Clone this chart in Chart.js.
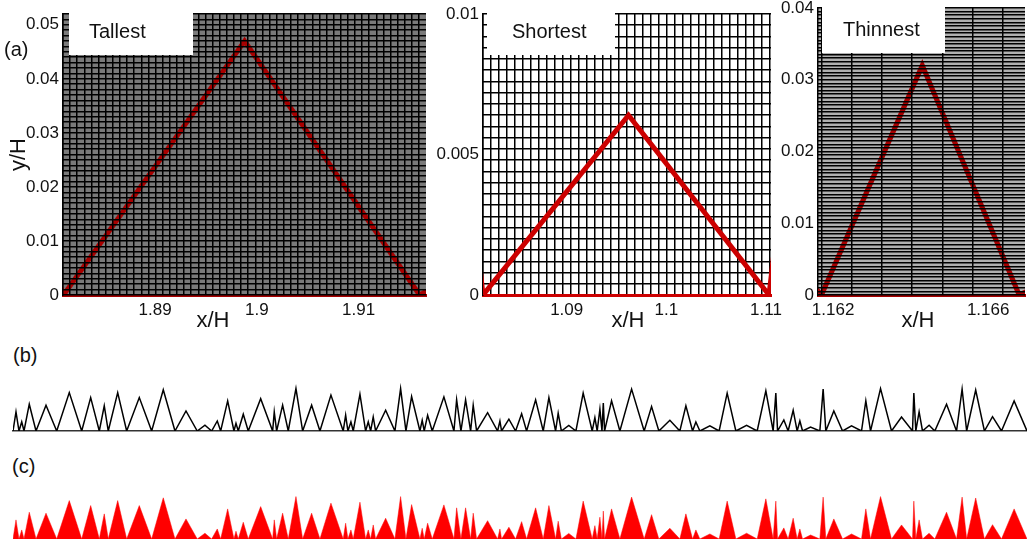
<!DOCTYPE html>
<html>
<head>
<meta charset="utf-8">
<script src="https://cdn.jsdelivr.net/npm/chart.js@4.4.1/dist/chart.umd.min.js"></script>
<style>
  body { margin: 0; background: #fff; }
  #fig { position: relative; width: 1027px; height: 544px; overflow: hidden; font-family: "Liberation Sans", Arial, sans-serif; color: #111; }
  #fig canvas { position: absolute; }
  .tag { position: absolute; font-size: 20px; line-height: 20px; }
  .xlab { position: absolute; font-size: 22px; line-height: 22px; transform: translateX(-50%); white-space: nowrap; }
</style>
</head>
<body>
<div id="fig">
  <canvas id="tallest" width="440" height="330" style="left:0;top:0"></canvas>
  <canvas id="shortest" width="370" height="330" style="left:430px;top:0"></canvas>
  <canvas id="thinnest" width="257" height="330" style="left:770px;top:0"></canvas>
  <canvas id="profile" width="1027" height="60" style="left:0;top:376px"></canvas>
  <canvas id="cells" width="1027" height="60" style="left:0;top:484px"></canvas>

  <div class="tag" style="left:4px;top:39px">(a)</div>
  <div class="tag" style="left:13px;top:345px">(b)</div>
  <div class="tag" style="left:12px;top:456px">(c)</div>
  <div class="xlab" style="left:213px;top:309px">x/H</div>
  <div class="xlab" style="left:628px;top:309px">x/H</div>
  <div class="xlab" style="left:918px;top:309px">x/H</div>
</div>

<script>
// rough wall: vertices of the triangular elements (x/H, y/H)
const profileX = [
  0.0000, 0.0059, 0.0118, 0.0172, 0.0217, 0.0321, 0.0454, 0.0651, 0.0862, 0.1110,
  0.1355, 0.1532, 0.1702, 0.1800, 0.1879, 0.2065, 0.2242, 0.2491, 0.2735, 0.2964,
  0.3195, 0.3412, 0.3634, 0.3786, 0.3918, 0.4029, 0.4096, 0.4234, 0.4358, 0.4398,
  0.4443, 0.4542, 0.4640, 0.4885, 0.5121, 0.5153, 0.5200, 0.5318, 0.5429, 0.5581,
  0.5713, 0.5890, 0.6054, 0.6271, 0.6513, 0.6561, 0.6606, 0.6665, 0.6711, 0.6843,
  0.6955, 0.7007, 0.7054, 0.7105, 0.7152, 0.7350, 0.7533, 0.7645, 0.7750, 0.7862,
  0.8026, 0.8071, 0.8111, 0.8178, 0.8269, 0.8499, 0.8697, 0.8750, 0.8835, 0.8927,
  0.9026, 0.9077, 0.9144, 0.9361, 0.9558, 0.9604, 0.9637, 0.9781, 0.9913, 1.0032,
  1.0130, 1.0308, 1.0458, 1.0570, 1.0702, 1.0753, 1.0816, 1.0962, 1.1103, 1.1246,
  1.1424, 1.1477, 1.1522, 1.1576, 1.1617, 1.1643, 1.1668, 1.1806, 1.1970, 1.2201,
  1.2449, 1.2595, 1.2739, 1.2956, 1.3153, 1.3272, 1.3404, 1.3469, 1.3548, 1.3745,
  1.3928, 1.4086, 1.4258, 1.4469, 1.4678, 1.4849, 1.4993, 1.5046, 1.5080, 1.5204,
  1.5289, 1.5388, 1.5466, 1.5520, 1.5573, 1.5731, 1.5914, 1.5979, 1.6032, 1.6190,
  1.6362, 1.6539, 1.6736, 1.6821, 1.6914, 1.7111, 1.7328, 1.7525, 1.7742, 1.7768,
  1.7807, 1.7872, 1.7939, 1.8069, 1.8182, 1.8413, 1.8610, 1.8720, 1.8810, 1.8988,
  1.9160, 1.9320, 1.9497, 1.9746, 2.0000
];
const profileY = [
  0, 0.0219, 0, 0.0104, 0, 0.0307, 0, 0.0296, 0, 0.0440,
  0, 0.0383, 0, 0.0288, 0, 0.0440, 0, 0.0383, 0, 0.0472,
  0, 0.0230, 0, 0.0066, 0, 0.0115, 0, 0.0345, 0, 0.0089,
  0, 0.0192, 0, 0.0371, 0, 0.0219, 0, 0.0296, 0, 0.0486,
  0, 0.0296, 0, 0.0411, 0, 0.0181, 0, 0.0104, 0, 0.0422,
  0, 0.0104, 0, 0.0161, 0, 0.0238, 0, 0.0486, 0, 0.0394,
  0, 0.0123, 0, 0.0181, 0, 0.0391, 0, 0.0357, 0, 0.0357,
  0, 0.0296, 0, 0.0210, 0, 0.0115, 0, 0.0135, 0, 0.0199,
  0, 0.0357, 0, 0.0383, 0, 0.0204, 0, 0.0064, 0, 0.0434,
  0, 0.0153, 0, 0.0250, 0, 0.0320, 0, 0.0345, 0, 0.0480,
  0, 0.0279, 0, 0.0123, 0, 0.0288, 0, 0.0104, 0, 0.0058,
  0, 0.0434, 0, 0.0066, 0, 0.0460, 0, 0.0434, 0, 0.0127,
  0, 0.0238, 0, 0.0115, 0, 0.0046, 0, 0.0480, 0, 0.0230,
  0, 0.0058, 0, 0.0345, 0, 0.0486, 0, 0.0161, 0, 0.0434,
  0, 0.0219, 0, 0.0066, 0, 0.0307, 0, 0.0480, 0, 0.0470,
  0, 0.0164, 0, 0.0345, 0
];

// axis ticks of the three close-ups
const tallestXTicks = [1.89, 1.9, 1.91];
const tallestYTicks = [0, 0.01, 0.02, 0.03, 0.04, 0.05];
const shortestXTicks = [1.09, 1.1, 1.11];
const shortestYTicks = [0, 0.005, 0.01];
const thinnestXTicks = [1.162, 1.166];
const thinnestYTicks = [0, 0.01, 0.02, 0.03, 0.04];

const profilePoints = profileX.map((x, i) => ({ x, y: profileY[i] }));

Chart.defaults.font.family = '"Liberation Sans", Arial, sans-serif';
Chart.defaults.color = '#111';

// grey cell background under the mesh, white label box on top
const panelTag = {
  id: 'panelTag',
  beforeDraw(chart, args, opts) {
    if (!opts.shade) return;
    const { ctx, chartArea: a } = chart;
    ctx.save();
    ctx.fillStyle = opts.shade;
    ctx.fillRect(a.left, a.top, a.right - a.left, a.bottom - a.top);
    ctx.restore();
  },
  afterDraw(chart, args, opts) {
    const { ctx, chartArea: a } = chart;
    const [dx, w, h] = opts.box;
    ctx.save();
    ctx.fillStyle = '#fff';
    ctx.fillRect(a.left + dx, a.top - 1, w, h + 1);
    ctx.fillStyle = '#111';
    ctx.font = '20px "Liberation Sans", Arial, sans-serif';
    ctx.fillText(opts.text, a.left + dx + opts.textDx, a.top + opts.baseline);
    ctx.restore();
  }
};

function meshLines(start, end, step) {
  const out = [];
  for (let v = start; v <= end + 1e-9; v += step) out.push({ value: v });
  return out;
}

function closeUp(id, v) {
  return new Chart(document.getElementById(id), {
    type: 'line',
    data: {
      datasets: [{
        data: profilePoints,
        borderColor: v.lineColor,
        borderWidth: 5,
        pointRadius: 0,
        fill: false
      }]
    },
    options: {
      responsive: false,
      animation: false,
      events: [],
      layout: { padding: v.padding },
      plugins: {
        legend: { display: false },
        tooltip: { enabled: false },
        panelTag: v.tag
      },
      scales: {
        x: {
          type: 'linear',
          min: v.xMin,
          max: v.xMax,
          grid: { display: false, drawTicks: false },
          border: { color: v.lineColor, width: 3 },
          ticks: { font: { size: 17 }, padding: 5, callback: (val) => String(val) },
          afterBuildTicks: (s) => { s.ticks = v.xTicks.map((value) => ({ value })); },
          afterFit: (s) => { s.height = 35; s.paddingLeft = 0; s.paddingRight = 0; }
        },
        y: {
          type: 'linear',
          min: 0,
          max: v.yMax,
          grid: { display: false, drawTicks: false },
          border: { color: '#000', width: 1.5 },
          ticks: { font: { size: 17 }, padding: 4, callback: (val) => String(val) },
          title: v.yTitle
            ? { display: true, text: v.yTitle, font: { size: 22 }, padding: { top: 6, bottom: 0 } }
            : { display: false },
          afterBuildTicks: (s) => { s.ticks = v.yTicks.map((value) => ({ value })); },
          afterFit: (s) => { s.width = v.yAxisWidth; s.paddingTop = 0; s.paddingBottom = 0; }
        },
        xm: {
          type: 'linear',
          position: 'bottom',
          min: v.xMin,
          max: v.xMax,
          ticks: { display: false },
          border: { display: false },
          grid: { color: '#000', lineWidth: 1.5, drawTicks: false, z: v.meshZ },
          afterBuildTicks: (s) => { s.ticks = meshLines(v.meshX0, v.xMax, v.meshDx); },
          afterFit: (s) => { s.height = 0; s.paddingLeft = 0; s.paddingRight = 0; }
        },
        ym: {
          type: 'linear',
          position: 'left',
          min: 0,
          max: v.yMax,
          ticks: { display: false },
          border: { display: false },
          grid: { color: '#000', lineWidth: 1.5, drawTicks: false, z: v.meshZ },
          afterBuildTicks: (s) => { s.ticks = meshLines(0, v.yMax, v.meshDy); },
          afterFit: (s) => { s.width = 0; s.paddingTop = 0; s.paddingBottom = 0; }
        }
      }
    },
    plugins: [panelTag]
  });
}

closeUp('tallest', {
  xMin: 1.88095, xMax: 1.91663, yMax: 0.052,
  xTicks: tallestXTicks, yTicks: tallestYTicks,
  meshX0: 1.88095, meshDx: 0.0007, meshDy: 0.001, meshZ: 1,
  lineColor: '#a80000', yTitle: 'y/H', yAxisWidth: 63,
  padding: { left: 0, top: 14, right: 14, bottom: 0 },
  tag: { text: 'Tallest', box: [6, 124, 41], textDx: 20, baseline: 24, shade: '#7a7a7a' }
});

closeUp('shortest', {
  xMin: 1.0816, xMax: 1.1105, yMax: 0.01,
  xTicks: shortestXTicks, yTicks: shortestYTicks,
  meshX0: 1.0816, meshDx: 0.0008, meshDy: 0.0004, meshZ: -1,
  lineColor: '#cc0000', yTitle: null, yAxisWidth: 53,
  padding: { left: 0, top: 14, right: 29, bottom: 0 },
  tag: { text: 'Shortest', box: [4, 128, 41], textDx: 25, baseline: 24, shade: null }
});

closeUp('thinnest', {
  xMin: 1.16161, xMax: 1.16695, yMax: 0.04,
  xTicks: thinnestXTicks, yTicks: thinnestYTicks,
  meshX0: 1.1617, meshDx: 0.00078, meshDy: 0.0005, meshZ: 1,
  lineColor: '#a80000', yTitle: null, yAxisWidth: 48,
  padding: { left: 0, top: 8, right: 2, bottom: 0 },
  tag: { text: 'Thinnest', box: [4, 123, 45], textDx: 21, baseline: 28, shade: '#b0b0b0' }
});

// (b) wall profile as a line, (c) the same profile as filled cells
function strip(id, filled) {
  return new Chart(document.getElementById(id), {
    type: 'line',
    data: {
      datasets: [{
        data: profilePoints,
        borderColor: filled ? '#ff0000' : '#000',
        backgroundColor: '#ff0000',
        borderWidth: filled ? 0.5 : 1.5,
        pointRadius: 0,
        fill: filled ? 'origin' : false
      }]
    },
    options: {
      responsive: false,
      animation: false,
      events: [],
      layout: { padding: { left: 13, right: 0, top: 7, bottom: 5 } },
      plugins: { legend: { display: false }, tooltip: { enabled: false } },
      scales: {
        x: {
          type: 'linear',
          min: 0,
          max: 2,
          display: !filled,
          ticks: { display: false },
          grid: { display: false, drawTicks: false },
          border: { color: '#333', width: 1.5 },
          afterFit: (s) => { s.height = 0; s.paddingLeft = 0; s.paddingRight = 0; }
        },
        y: { type: 'linear', min: 0, max: 0.055, display: false }
      }
    }
  });
}

strip('profile', false);
strip('cells', true);
</script>
</body>
</html>
